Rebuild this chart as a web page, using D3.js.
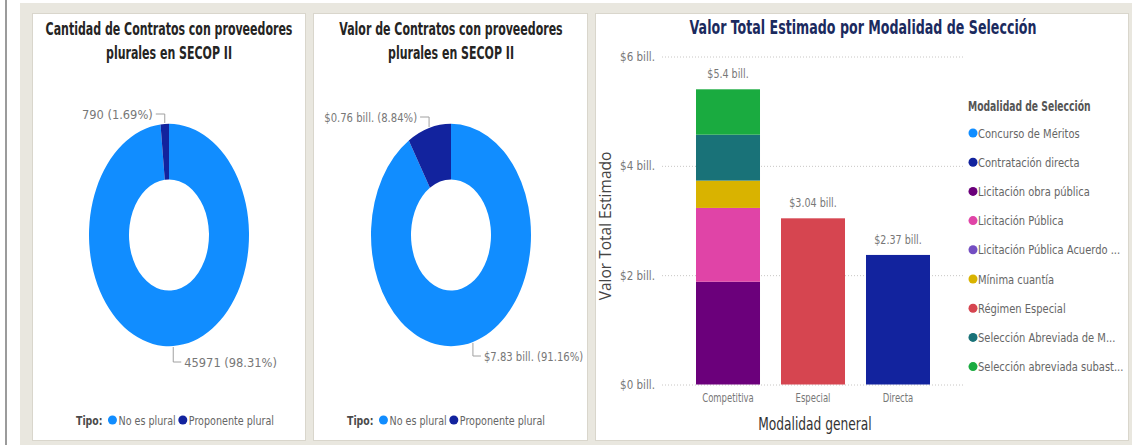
<!DOCTYPE html>
<html>
<head>
<meta charset="utf-8">
<script src="https://cdn.jsdelivr.net/npm/d3@7"></script>
<style>
  html, body { margin: 0; padding: 0; background: #ffffff; }
  svg { display: block; }
  text { font-family: "DejaVu Sans Condensed", "Liberation Sans Narrow", "Arial Narrow", sans-serif; }
</style>
</head>
<body>
<svg id="chart" width="1132" height="445"></svg>
<script>
// ---- data ----
const tipoLabels = ["No es plural", "Proponente plural"];
const cantidadValues = [45971, 790];
const cantidadPct = [98.31, 1.69];
const valorValues = [7.83, 0.76];          // billones de pesos
const valorPct = [91.16, 8.84];

const categories = ["Competitiva", "Especial", "Directa"];
const modalidades = [
  "Concurso de Méritos",
  "Contratación directa",
  "Licitación obra pública",
  "Licitación Pública",
  "Licitación Pública Acuerdo ...",
  "Mínima cuantía",
  "Régimen Especial",
  "Selección Abreviada de M...",
  "Selección abreviada subast..."
];
// valor estimado (bill.) por modalidad, en el mismo orden que `modalidades`
const competitivaValues = [0, 0, 1.88, 1.35, 0, 0.50, 0, 0.84, 0.83];
const especialValues    = [0, 0, 0, 0, 0, 0, 3.04, 0, 0];
const directaValues     = [0, 2.37, 0, 0, 0, 0, 0, 0, 0];
const yTicks = [0, 2, 4, 6];

// ---- styles ----
const tipoColors = ["#118dff", "#12239e"];
const modalidadColors = ["#118dff", "#12239e", "#6b007b", "#e044a7", "#744ec2",
                         "#d9b300", "#d64550", "#197278", "#1aab40"];
const labelGray = "#777777";

// narrow a text run horizontally around its anchor point
function condense(sel, k) {
  sel.each(function () {
    const t = d3.select(this);
    const x = +t.attr("x") || 0, y = +t.attr("y") || 0;
    const prev = t.attr("transform") || "";
    t.attr("x", 0).attr("y", 0)
     .attr("transform", `${prev} translate(${x},${y}) scale(${k},1)`.trim());
  });
  return sel;
}
const narrowWidth = (node, k) => node.getBBox().width * k;

const svg = d3.select("#chart");

// page background and dashboard frame
svg.append("rect").attr("x", 20).attr("y", 3).attr("width", 1112).attr("height", 442).attr("fill", "#e9e7df");
svg.append("line").attr("x1", 6).attr("x2", 6).attr("y1", 0).attr("y2", 445)
   .attr("stroke", "#7a7a7a").attr("stroke-width", 1.5);

const panels = [
  { x: 32,  y: 13, w: 273, h: 427 },
  { x: 313, y: 13, w: 274, h: 427 },
  { x: 595, y: 13, w: 533, h: 427 }
];
svg.selectAll("rect.panel").data(panels).join("rect")
  .attr("class", "panel")
  .attr("x", d => d.x + 0.5).attr("y", d => d.y + 0.5)
  .attr("width", d => d.w).attr("height", d => d.h)
  .attr("fill", "#ffffff").attr("stroke", "#d9d6cc");

// ---- donut charts ----
function donut(opts) {
  const g = svg.append("g");
  const cx = opts.cx, cy = opts.cy, r = 80, sy = 1.39;

  // title (two lines)
  const title = g.selectAll("text.title").data(opts.title).join("text")
    .attr("x", cx).attr("y", (d, i) => 35 + i * 24)
    .attr("text-anchor", "middle")
    .attr("font-size", 18).attr("font-weight", "bold").attr("fill", "#252423")
    .text(d => d);
  condense(title, 0.68);

  const pie = d3.pie().sort(null).value(d => d.pct);
  const data = tipoLabels.map((t, i) => ({ tipo: t, pct: opts.pct[i], label: opts.labels[i], color: tipoColors[i] }));
  const arcs = pie(data);
  const arc = d3.arc().innerRadius(r * 0.5).outerRadius(r);

  const ring = g.append("g").attr("transform", `translate(${cx},${cy}) scale(1,${sy})`);
  ring.selectAll("path").data(arcs).join("path")
    .attr("d", arc).attr("fill", d => d.data.color);

  // data labels with leader lines
  arcs.forEach((a, i) => {
    const mid = (a.startAngle + a.endAngle) / 2;
    const px = cx + Math.sin(mid) * r;
    const py = cy - Math.cos(mid) * r * sy;
    const top = Math.cos(mid) > 0;
    const ly = top ? opts.topY : opts.bottomY;
    const hx = top ? px - 9 : px + 8;
    g.append("path")
      .attr("d", `M${px},${py + (top ? -1 : 1)}V${ly}H${hx}`)
      .attr("fill", "none").attr("stroke", "#a0a0a0").attr("stroke-width", 1);
    const t = g.append("text")
      .attr("x", top ? hx - 3 : hx + 3).attr("y", ly + 4.5)
      .attr("text-anchor", top ? "end" : "start")
      .attr("font-size", 13).attr("fill", labelGray)
      .text(a.data.label);
    condense(t, opts.labelK);
  });

  // legend
  const lg = g.append("g").attr("transform", `translate(${opts.legendX},420)`);
  const tipoText = lg.append("text").attr("x", 0).attr("y", 4.5)
    .attr("font-size", 13).attr("font-weight", "bold").attr("fill", "#4a4a4a").text("Tipo:");
  let x = narrowWidth(tipoText.node(), 0.8) + 10;
  condense(tipoText, 0.8);
  tipoLabels.forEach((t, i) => {
    lg.append("circle").attr("cx", x).attr("cy", 0).attr("r", 4.5).attr("fill", tipoColors[i]);
    const tx = lg.append("text").attr("x", x + 6).attr("y", 4.5)
      .attr("font-size", 13).attr("fill", "#666666").text(t);
    const w = narrowWidth(tx.node(), 0.82);
    condense(tx, 0.82);
    x += 6 + w + 7;
  });
}

const fmtInt = d3.format("d");
const fmtBill = v => `$${d3.format(".3~r")(v)} bill.`;

donut({
  cx: 169, cy: 235,
  title: ["Cantidad de Contratos con proveedores", "plurales en SECOP II"],
  pct: cantidadPct,
  labels: cantidadValues.map((v, i) => `${fmtInt(v)} (${cantidadPct[i].toFixed(2)}%)`),
  labelK: 0.98,
  topY: 114, bottomY: 362, legendX: 76
});
donut({
  cx: 451, cy: 235,
  title: ["Valor de Contratos con proveedores", "plurales en SECOP II"],
  pct: valorPct,
  labels: valorValues.map((v, i) => `${fmtBill(v)} (${valorPct[i].toFixed(2)}%)`),
  labelK: 0.86,
  topY: 117, bottomY: 356, legendX: 347
});

// ---- stacked bar chart ----
const bar = svg.append("g");
condense(bar.append("text")
  .attr("x", 863).attr("y", 34).attr("text-anchor", "middle")
  .attr("font-size", 19).attr("font-weight", "bold").attr("fill", "#1b2a5e")
  .text("Valor Total Estimado por Modalidad de Selección"), 0.74);

const y = d3.scaleLinear().domain([0, 6]).range([384.5, 56.5]);
const x = d3.scaleBand().domain(categories).range([670.5, 955.5]).paddingInner(0.247).paddingOuter(0.3);

// gridlines + tick labels
const yAxis = d3.axisLeft(y).tickValues(yTicks).tickSize(-(965 - 662)).tickFormat(d => `$${d} bill.`);
const ga = bar.append("g").attr("transform", "translate(662,0)").call(yAxis);
ga.select(".domain").remove();
ga.selectAll(".tick line").attr("stroke", "#c8c6c4").attr("stroke-dasharray", "1,2");
ga.selectAll(".tick text").attr("x", -7).attr("font-size", 12.5).attr("fill", labelGray)
  .attr("font-family", null);
condense(ga.selectAll(".tick text"), 0.92);

// stack series
const rows = categories.map((c, ci) => {
  const src = [competitivaValues, especialValues, directaValues][ci];
  const row = { category: c };
  modalidades.forEach((m, mi) => row[m] = src[mi]);
  return row;
});
const series = d3.stack().keys(modalidades)(rows);

bar.append("g").selectAll("g").data(series).join("g")
  .attr("fill", (d, i) => modalidadColors[i])
  .selectAll("rect").data(d => d.filter(s => s[1] - s[0] > 0)).join("rect")
  .attr("x", d => x(d.data.category))
  .attr("width", x.bandwidth())
  .attr("y", d => y(d[1]))
  .attr("height", d => y(d[0]) - y(d[1]));

// totals above bars
condense(bar.append("g").selectAll("text").data(rows).join("text")
  .attr("x", d => x(d.category) + x.bandwidth() / 2)
  .attr("y", d => y(d3.sum(modalidades, m => d[m])) - 11)
  .attr("text-anchor", "middle").attr("font-size", 12.5).attr("fill", labelGray)
  .text(d => fmtBill(d3.sum(modalidades, m => d[m]))), 0.85);

// category axis
const xAxis = d3.axisBottom(x).tickSize(0);
const gx = bar.append("g").attr("transform", "translate(0,391)").call(xAxis);
gx.select(".domain").remove();
gx.selectAll(".tick text").attr("font-size", 11.5).attr("fill", labelGray).attr("font-family", null);
condense(gx.selectAll(".tick text"), 0.82);

// axis titles
condense(bar.append("text")
  .attr("x", x.range()[0] + (x.range()[1] - x.range()[0]) / 2 + 2).attr("y", 430)
  .attr("text-anchor", "middle").attr("font-size", 17).attr("fill", "#333333")
  .text("Modalidad general"), 0.8);
bar.append("text")
  .attr("transform", "translate(611,226) rotate(-90)")
  .attr("text-anchor", "middle").attr("font-size", 15.5).attr("fill", "#444444")
  .style("font-family", "'Open Sans', 'DejaVu Sans', sans-serif")
  .text("Valor Total Estimado");

// legend
const leg = bar.append("g").attr("transform", "translate(968,0)");
condense(leg.append("text").attr("x", 0).attr("y", 111)
  .attr("font-size", 13.5).attr("font-weight", "bold").attr("fill", "#555555")
  .text("Modalidad de Selección"), 0.76);
const items = leg.selectAll("g.item").data(modalidades).join("g")
  .attr("class", "item")
  .attr("transform", (d, i) => `translate(0,${133 + i * 29.2})`);
items.append("circle").attr("cx", 5).attr("cy", 0).attr("r", 4.5).attr("fill", (d, i) => modalidadColors[i]);
condense(items.append("text").attr("x", 10).attr("y", 4.5)
  .attr("font-size", 13).attr("fill", "#666666").text(d => d), 0.85);
</script>
</body>
</html>
